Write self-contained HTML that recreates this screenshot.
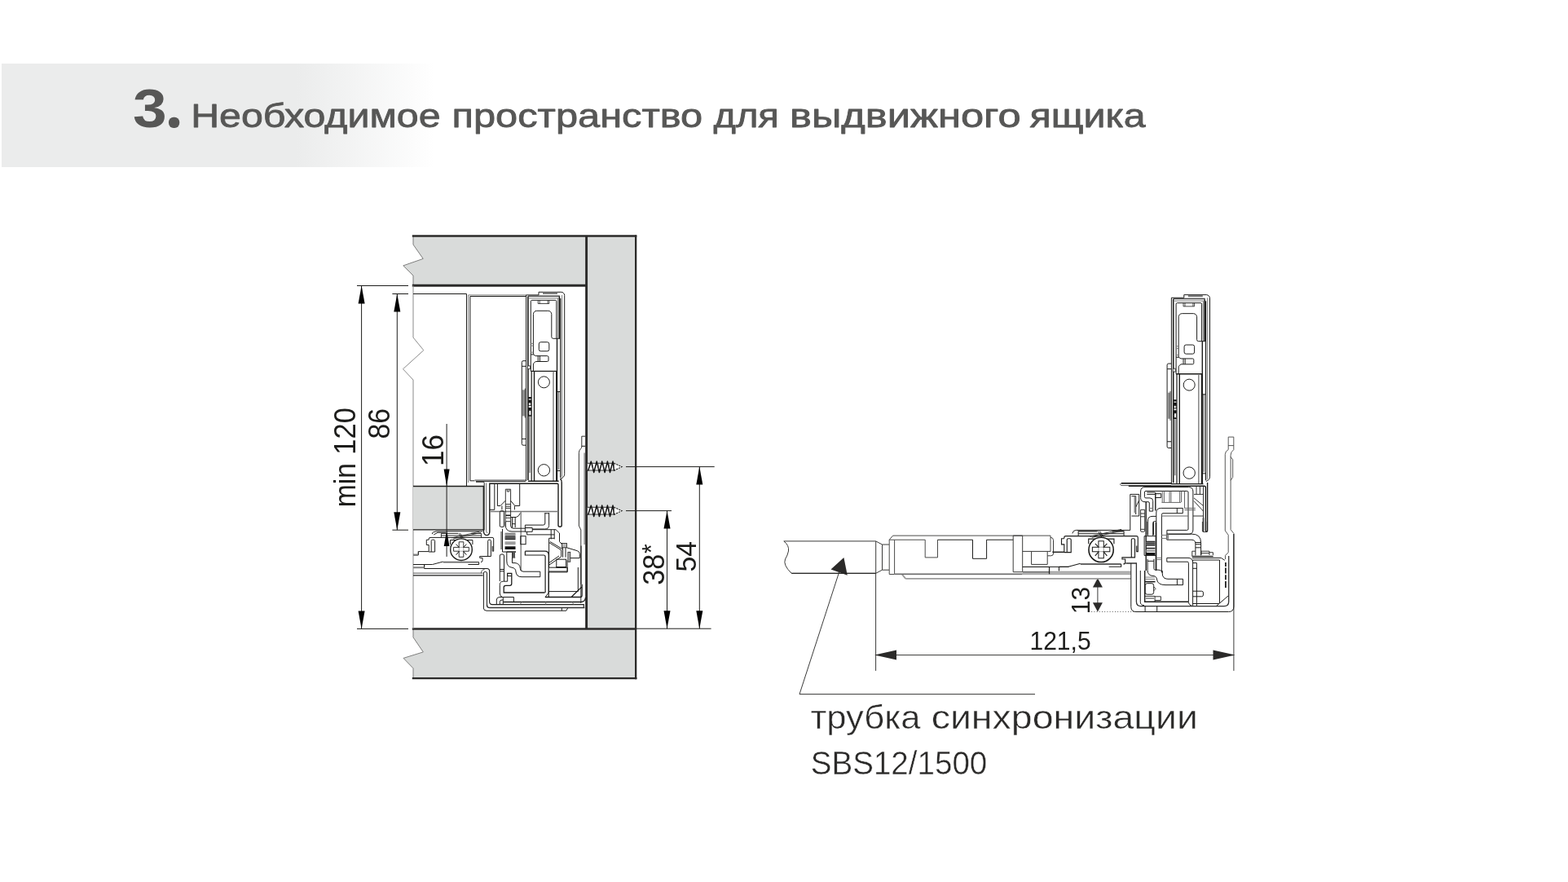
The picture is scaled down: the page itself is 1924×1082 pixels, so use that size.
<!DOCTYPE html>
<html lang="ru">
<head>
<meta charset="utf-8">
<title>3. Необходимое пространство для выдвижного ящика</title>
<style>
html,body{margin:0;padding:0;background:#fff;}
body{width:1924px;height:1082px;overflow:hidden;position:relative;font-family:"Liberation Sans",sans-serif;}
#band{position:absolute;left:2px;top:78px;width:540px;height:127px;background:linear-gradient(90deg,#ebecec 0,#ebecec 67%,#fff 98.5%);}
svg{position:absolute;left:0;top:0;will-change:transform;}
svg text{font-family:"Liberation Sans",sans-serif;}
.ln{fill:none;stroke:#1d1d1b;stroke-width:1;}
.l2{fill:none;stroke:#1d1d1b;stroke-width:1.6;}
.lt{fill:none;stroke:#3a3a39;stroke-width:0.7;}
.lg{fill:none;stroke:#7d7d7c;stroke-width:1;}
.dim{fill:none;stroke:#1d1d1b;stroke-width:1;}
.thick{fill:none;stroke:#2b2a29;stroke-width:2.7;}
.ar{fill:#000;stroke:none;}
.ar2{fill:#2b2a29;stroke:none;}
.wfill{fill:#fff;stroke:none;}
.pan{fill:#d9dbda;stroke:none;}
.wf{fill:#fff;stroke:#1d1d1b;stroke-width:1;}
.gf{fill:#b9b9b9;stroke:#1d1d1b;stroke-width:0.8;}
</style>
</head>
<body>
<div id="band"></div>
<svg width="1924" height="1082" viewBox="0 0 1924 1082">
<g id="hdr">
<text transform="translate(163.10 155.75) scale(1.1504 1.0281)" font-size="65" font-weight="700" fill="#575756">3</text>
<text transform="translate(212.20 150.70) scale(0.9708 0.9783)" font-size="10" font-weight="700" fill="#575756" stroke="#575756" stroke-width="12.2" stroke-linejoin="round">.</text>
<text transform="translate(234.15 155.85) scale(1.1511 0.975)" font-size="42" font-weight="400" fill="#575756" stroke="#575756" stroke-width="0.8" stroke-linejoin="round">Необходимое</text>
<text transform="translate(554.60 155.85) scale(1.1609 0.975)" font-size="42" font-weight="400" fill="#575756" stroke="#575756" stroke-width="0.8" stroke-linejoin="round">пространство</text>
<text transform="translate(875.50 155.85) scale(1.1186 0.975)" font-size="42" font-weight="400" fill="#575756" stroke="#575756" stroke-width="0.8" stroke-linejoin="round">для</text>
<text transform="translate(969.00 155.85) scale(1.2063 0.975)" font-size="42" font-weight="400" fill="#575756" stroke="#575756" stroke-width="0.8" stroke-linejoin="round">выдвижного</text>
<text transform="translate(1263.50 155.85) scale(1.1511 0.975)" font-size="42" font-weight="400" fill="#575756" stroke="#575756" stroke-width="0.8" stroke-linejoin="round">ящика</text>
</g>
<g id="label">
<text transform="translate(994.40 894.20) scale(1.0879 1.0107)" font-size="40" font-weight="400" fill="#2b2a29" stroke="#fff" stroke-width="0.45">трубка</text>
<text transform="translate(1142.65 894.20) scale(1.1628 1.0107)" font-size="40" font-weight="400" fill="#2b2a29" stroke="#fff" stroke-width="0.45">синхронизации</text>
<text transform="translate(994.75 949.60) scale(0.9643 1.0206)" font-size="40" font-weight="400" fill="#2b2a29" stroke="#fff" stroke-width="0.45">SBS12/1500</text>
</g>
<g id="left">
<path class="pan" d="M507 289.7H719.5V350.2H507V338L494.8 325.9L519.2 317.4L507 300Z"/>
<path class="pan" d="M719.5 289.7H780.3V832.1H719.5Z"/>
<path class="pan" d="M507 771.4H780.3V832.1H507V819.8L495 807.4L519.3 799.9L507 781.8Z"/>
<path class="lg" d="M507 289.7V300L519.2 317.4L494.8 325.9L507 338V350.2"/>
<path class="lg" d="M507 771.4V781.8L519.3 799.9L495 807.4L507 819.8V832.1"/>
<path class="thick" d="M505.8 289.6H781.3" style="stroke-width:2.5"/>
<path class="thick" d="M505.8 350.3H719.5" style="stroke-width:3"/>
<path class="thick" d="M719.6 289.7V771.4" style="stroke-width:2.9"/>
<path class="thick" d="M780.15 288.4V833.2" style="stroke-width:2.3"/>
<path class="thick" d="M505.8 771.4H780" style="stroke-width:2.5"/>
<path class="thick" d="M505.8 832.1H781.4" style="stroke-width:2.2"/>
<path class="lg" d="M507 350.2V414L519.8 429.7L494.5 452.7L507 466V771.4" style="stroke:#8a8a8a"/>
<path class="dim" d="M438 350.5H501M438 771.4H501M443.6 350.5V771.4"/>
<path class="ar" d="M443.6 350.5L439.6 372.5L447.6 372.5Z"/>
<path class="ar" d="M443.6 771.4L439.6 749.4L447.6 749.4Z"/>
<path class="dim" d="M481.4 360.5H501M481.4 650.2H501M487.3 360.5V650.2"/>
<path class="ar" d="M487.3 360.5L483.3 382.5L491.3 382.5Z"/>
<path class="ar" d="M487.3 650.2L483.3 628.2L491.3 628.2Z"/>
<path class="dim" d="M768 572.6H876.7M768 626.6H824M780.3 771.2H872.6M858.3 572.6V771.2M818.5 626.6V771.2"/>
<path class="ar" d="M858.3 572.6L854.3 594.6L862.3 594.6Z"/>
<path class="ar" d="M858.3 771.2L854.3 749.2L862.3 749.2Z"/>
<path class="ar" d="M818.5 626.6L814.5 648.6L822.5 648.6Z"/>
<path class="ar" d="M818.5 771.2L814.5 749.2L822.5 749.2Z"/>
<path class="ln" d="M507 360.5H572.5V596.5"/>
<path class="ln" d="M576.9 589.8V363.5H645.5"/>
<path class="lg" d="M574.7 361.9H645.5M574.7 361.9V592"/>
<path class="ln" d="M576.9 589.8H582.4"/>
<path class="ln" d="M582.4 589.2H645" style="stroke:#8a8a8a;stroke-width:2"/>
<path class="ln" d="M584 590.6H645" style="stroke-width:.9"/>
<path class="pan" d="M507 596.5H593.3V649.9H507Z"/>
<path class="ln" d="M507 596.5H593.3V649.9H507" style="stroke-width:1.3"/>
<path class="wfill" d="M645.6 590V361.9H661V358.3H688.5A4.2 4.2 0 0 1 692.7 362.5V581.5Q692.7 585.5 688 587.2V590Z"/>
<path class="ln" d="M645.6 590V361.9H661V358.3H688.5A4.2 4.2 0 0 1 692.7 362.5V581.5Q692.7 585.5 688 587.2"/>
<path class="l2" d="M647.9 589V363.5M686.4 364V415.3"/>
<path class="ln" d="M666 359.7H684" style="stroke:#777;stroke-width:2.4"/>
<path class="ln" d="M648 363.2H687" style="stroke:#444;stroke-width:1.5"/>
<path class="lg" d="M649 365.8H686M689.6 362V585M684.6 366V415.3"/>
<path class="ln" d="M687.7 366V586" style="stroke-width:1.2"/>
<path class="ln" d="M651.3 455.4V369.8Q651.3 368.3 652.8 368.3H681.3Q682.8 368.3 682.8 369.8V415.3"/>
<path class="ln" d="M660.2 368.3V372.5H673.8V368.3M662.2 368.3V372.5M672.1 368.3V372.5" style="stroke-width:.8"/>
<path class="ln" d="M651.3 434.9H654.4V385.5A4.2 4.2 0 0 1 658.6 381.3H672.6A4.2 4.2 0 0 1 676.8 385.5V413.3Q676.8 415.3 678.8 415.3H687.1"/>
<path class="ln" d="M654.4 434.9L657.2 436.6H671.5Q673 436.6 673 438.1V442Q673 443.5 671.5 443.5H657.2L654.4 446V455.4M660.2 436.6V443.5M662.4 436.6V443.5"/>
<path class="lg" d="M651.3 421.4H654.4M651.3 424.1H654.4M651.3 432.2H654.4"/>
<rect class="ln" x="661.3" y="419.7" width="12.5" height="11.1" rx="2.2"/>
<path class="l2" d="M683.5 415.3V590M651.3 455.4H683.5M682.7 455.4V590M655.5 455.4V590" style="stroke-width:1.4"/>
<path class="ln" d="M652.2 455.4V590" style="stroke-width:1.2"/>
<path class="lg" d="M679 455.8V590" style="stroke-width:1.6;stroke:#8c8c8c"/>
<circle class="ln" cx="667.4" cy="468.8" r="7"/>
<circle class="ln" cx="667.4" cy="576.8" r="7.2"/>
<path class="ln" d="M645.5 442.7H642Q640.3 442.7 640.3 444.5V544.5Q640.3 546.2 642 546.2H645.5M640.3 449.3H645.5M640.3 538.4H645.5"/>
<path class="ln" d="M642.6 478.3V510.4" style="stroke:#8f8f8f;stroke-width:3"/>
<path class="ln" d="M644.2 476.5V512.5" style="stroke-width:.8"/>
<rect class="wf" x="647.4" y="448.8" width="3" height="3.9" style="stroke-width:.8"/>
<path class="ln" d="M650.1 487V531" style="stroke-width:3.6;stroke:#111;stroke-dasharray:2.2 1.2 4.5 1.6 1.5 2 6 1.2 3.5 50"/>
<path class="lg" d="M650 511V580" style="stroke-width:1.2;stroke:#666"/>
<rect class="wf" x="648.6" y="494" width="2.6" height="3.6" style="stroke-width:.7"/>
<rect class="wf" x="649" y="503.5" width="2.8" height="5.8" style="stroke-width:.7"/>
<path class="lg" d="M685.4 480.5V576" style="stroke-width:1.4;stroke:#777"/>
<path class="ln" d="M684 480.5H687.5M684 577.5H687.5"/>
<path class="l2" d="M648 590.2H685.6M637 593.3H683.8Q685 593.3 685 594.5V644.5Q685 646.2 687.1 646.2Q689.2 646.2 689.2 644.5V592Q689.2 589 687.5 587" style="stroke-width:1.4"/>
<path class="ln" d="M584 591.2H593Q594.2 591.2 594.2 592.5V650.5"/>
<path class="lg" d="M596.7 592.5V651.5Q596.7 653.6 598.3 653.6" style="stroke:#666"/>
<path class="l2" d="M593.3 650Q593.3 656.6 597 656.6Q600.8 656.6 600.8 652V593.3H637" style="stroke-width:1.4"/>
<path class="ln" d="M606.8 593.9V625.3H601M610.4 593.9V620.5H614L620.2 614.2M637.7 593.5V620.5H631.8L626.6 614.2M615.9 620.5V625.3M631.4 620.5V625.3"/>
<path class="ln" d="M601.5 627.5H685" style="stroke:#777;stroke-width:1.6"/>
<path class="ln" d="M620.3 646V600.2H626.6V640M622.3 600.2V603H624.8V600.2M620.3 618.6H626.6M620.3 621.2H626.6M620.3 623.4H626.6M620.3 635.3H626.6M620.3 639.7H626.6" style="stroke-width:.9"/>
<path class="l2" d="M620.3 632.3H626.6"/>
<rect class="ln" x="613.3" y="626.8" width="5.2" height="19.6" rx="1.5"/>
<path class="ln" d="M627 634.5H633.3Q637 633.5 638.4 629.4M628.5 634.5V647.1M632.2 634.5V647.1M628.5 642.7H632.2"/>
<path class="lg" d="M639.2 627.5V700" style="stroke-width:1.4"/>
<path class="ln" d="M620.3 640V644Q620.3 652 628 652H644.4M626.6 640V645Q626.6 648.2 630 648.2H644.4"/>
<path class="ln" d="M668.8 629V642Q668.8 644.1 666.5 644.1H644.4V652.3H653.2V647.5H644.4M673.6 629V644.5Q673.6 649 668.5 649H653.2M668.8 629.8H673.6"/>
<path class="ln" d="M653.2 649.7H682L686.5 654V664.4L689.8 668M646.6 652.3V655.9H680.2M676.2 649.7V661.4M680.2 649.7V661.4M673.6 660.3H680.2"/>
<path class="ln" d="M616.5 648.8V677H633"/>
<path class="lg" d="M615 652V674" style="stroke-width:1.6"/>
<rect x="619.6" y="653.7" width="12.9" height="3.7" fill="#777"/><rect x="619.6" y="657.7" width="12.9" height="4.5" fill="#2a2a2a"/><rect x="619.6" y="664.4" width="12.9" height="3.6" fill="#8a8a8a"/><rect x="619.6" y="670.3" width="12.9" height="3.7" fill="#111"/>
<path class="ln" d="M619.6 655.5H632.5M619.6 659.9H632.5M619.6 666.2H632.5" style="stroke:#ddd;stroke-width:.6"/>
<rect class="ln" x="638.8" y="657.7" width="6.3" height="10"/>
<path class="ln" d="M673.6 660.3V696.2H696.1M673.6 701H696.1V687.3M673.6 665.5L688.7 674.8V682.9L673.6 693.2M675 664.5L690 673.5M673.6 690.5L686 682"/>
<rect class="ln" x="682.8" y="686.2" width="11.8" height="9.6"/>
<rect class="gf" x="689.6" y="666.6" width="5.8" height="5.2"/>
<path class="ln" d="M690.6 671.8V683.6M694 671.8V683.6"/>
<path class="ln" d="M695.4 671.8L708.4 675.7Q711.3 676.6 711.3 679.5V684.6H699.8"/>
<rect class="gf" x="696.9" y="677.3" width="2.9" height="11.9"/>
<path class="ln" d="M644.4 676.2H668.5Q673.2 676.2 673.2 681V732M644.4 676.2V681H667Q669.1 681 669.1 683V727" style="stroke-width:1.2"/>
<path class="ln" d="M621.8 677V688Q621.8 695.5 628 696.2Q632.9 697 632.9 701Q633.5 707.7 640 707.7H662.8V701.2H642Q638.6 701.2 638.4 697.5Q638 691.2 632 690.6H628.5V677M628.5 684H632.2M621.8 677H633"/>
<path class="ln" d="M630.3 677V684" style="stroke-width:3.4;stroke:#555"/>
<path class="ln" d="M613.3 713V682Q613.3 680 615 680H617Q618.5 680 618.5 682V713M613.3 698.5H618.5M613.3 700.8H618.5"/>
<path class="ln" d="M622.7 707V703.4H627.8V716Q627.8 718.3 625.5 718.3H620.5Q618.2 718.3 618.2 720.5V727H668.6" style="stroke-width:1.3"/>
<path class="ln" d="M622.7 707V713.2H617.5Q613.3 713.2 613.3 717.5V728Q613.3 731.5 616.5 732.5M622.7 706.6H627.8"/>
<path class="ln" d="M617.3 732.5H630.4V738.3M617.3 732.5V741.6M609.3 741.6V736Q609.3 732.5 613 732.5H617.3M613.3 741.6V738.3Q613.3 736 616 736H617.3"/>
<path class="l2" d="M669 732.5H712Q714.1 732.5 714.1 730.3V716.8M701 732.5L713.7 720.1" style="stroke-width:1.3"/>
<path class="ln" d="M673.7 725.6H709.3V696M673.3 701V727L669 732.5M696.2 696V701.9M673.3 701.9H696.2"/>
<path class="ln" d="M713 669.6V716.8" style="stroke:#666;stroke-width:1.6"/>
<path class="l2" d="M682.4 695.8H694.8"/>
<path class="ln" d="M520.6 697.5H597.5Q600.6 697.5 600.6 700.6V738Q600.6 741.6 604 741.6H716.3V745.6" style="stroke-width:1.1"/>
<path class="ln" d="M507 703.1H592.6M590.4 703.1Q590.6 698.7 594.5 698.6" style="stroke:#555"/>
<path class="ln" d="M507 705.9H592.6" style="stroke-width:1.1"/>
<path class="ln" d="M597.5 742V703Q597.5 701.4 595.5 701.4Q593.4 701.4 593.4 703V746Q593.4 749.2 597 749.2H694.8L696.6 746M689.3 745.6V749.2"/>
<path class="ln" d="M597.5 742Q597.5 745.6 601 745.6H717.4" style="stroke-width:1.5;stroke:#333"/>
<path class="l2" d="M617.3 738.5H712.5Q718 738.5 718.5 733" style="stroke-width:1.3"/>
<path class="lg" d="M640.2 738.5L638 741.6M669.7 738.5V741.6M702 738.5L704 741.6"/>
<path class="ln" d="M530.7 655.2Q529.5 653.8 531.5 653L535.1 651.8H592M532.2 656L537 653.3H547"/>
<path class="ln" d="M541.4 659.4V654.4H562M590.6 659.4V654.4H578M541.4 657H590.6" style="stroke-width:.9"/>
<path class="ln" d="M554 660L588 652.2M556 661L590 653.4M562.8 654L566.5 660.7M564.6 654L568 660" style="stroke-width:.8"/>
<path class="ln" d="M526.2 662V661Q526.2 659.4 528 659.4H604Q605.7 659.4 605.7 661V676.2H604.3V670M526.2 662.2H523.3V668.5H526.2V676.6M529.2 677V663.5Q529.2 662.2 530.5 662.2H532.3Q533.6 662.2 533.6 663.5V677H526.2M598.7 682.1V663.5Q598.7 662.2 600 662.2H601.1Q602.4 662.2 602.4 663.5V682.5H588.7V684.4H592V687.6Q592 689.6 590 689.6"/>
<path class="ln" d="M526.2 676.6H513.3"/>
<path class="ln" d="M543.7 689.6H587.6" style="stroke:#666;stroke-width:1.8"/>
<path class="ln" d="M520.6 692.5H530.6L543.7 689M574.4 692.5H587.6V689.6"/>
<path class="ln" d="M552.5 668V662.5H579.9V668"/>
<circle class="wf" cx="566" cy="674.2" r="13.3" style="stroke-width:1.4"/>
<path class="ln" d="M556.6 671.4H563.2V664.8H568.8V671.4H575.4V676.2H568.8V683.3H563.2V676.2H556.6Z" style="stroke-width:.9"/>
<path class="ln" d="M563.2 671.4H568.8V676.2H563.2Z" style="stroke-width:.6;stroke:#777"/>
<path class="ln" d="M559.6 667.6L563.6 671.8M572.4 667.6L568.4 671.8M559.6 680.8L563.6 676M572.4 680.8L568.4 676" style="stroke-width:1"/>
<path class="ln" d="M513.3 676.6V680.3H507M507 692.5H520.6V697.5" style="stroke-width:1.2"/>
<path class="ln" d="M507 681H513.3M507 696.3H520.6" style="stroke:#808080;stroke-width:2"/>
<path class="dim" d="M548.1 520V682.9"/>
<path class="ar" d="M548.1 596.4L544.6 575.4L551.6 575.4Z"/>
<path class="ar" d="M548.1 651.0L544.7 670.0L551.5 670.0Z"/>
<path class="ln" d="M718.2 535.2H713.8V548Q713.8 549.5 712.6 550.5Q710.4 552.5 710.4 555.5V645L712.8 650V740" style="stroke-width:.9"/>
<path class="ln" d="M713.8 547.3H718.2"/>
<path class="lg" d="M717.1 555.5V668" style="stroke-width:1.3"/>
<path class="wfill" d="M720.8 568.3L723.7 568.3L725.3 566.1L727.1 568.3L730.6 568.3L732.2 566.1L734.0 568.3L737.1 568.3L738.7 566.1L740.5 568.3L743.8 568.3L745.4 566.1L747.2 568.3L750.4 568.3L752.0 566.1L753.8 568.3L753.4 568.3L763 572.6L753.4 577.4L750.3 577.0L748.5 579.5L746.7 577.0L743.9 577.0L742.1 579.5L740.3 577.0L737.2 577.0L735.4 579.5L733.6 577.0L730.5 577.0L728.7 579.5L726.9 577.0L720.8 577.0Z"/>
<path class="ln" d="M720.8 568.3H753.4M720.8 577.0H753.4" style="stroke-width:.9"/>
<path class="ln" d="M721.6 577.6L725.3 566.1L728.7 579.5L732.2 566.1L735.4 579.5L738.7 566.1L742.1 579.5L745.4 566.1L748.5 579.5L752.0 566.1L753.6 577.6" style="stroke-width:1.5;stroke-linejoin:round;stroke:#111"/>
<path class="ln" d="M726.8 567.6L727.9 575.6M733.7 567.6L734.8 575.6M740.2 567.6L741.3 575.6M746.9 567.6L748.0 575.6M753.5 567.6L753.2 575.6" style="stroke-width:.8;stroke:#555"/>
<path class="ln" d="M753.4 568.3L763 572.6L753.4 577.4" style="stroke-width:1.1;stroke-dasharray:2.2 1"/>
<path class="wfill" d="M720.8 622.3L723.7 622.3L725.3 620.1L727.1 622.3L730.6 622.3L732.2 620.1L734.0 622.3L737.1 622.3L738.7 620.1L740.5 622.3L743.8 622.3L745.4 620.1L747.2 622.3L750.4 622.3L752.0 620.1L753.8 622.3L753.4 622.3L763 626.6L753.4 631.4L750.3 631.0L748.5 633.5L746.7 631.0L743.9 631.0L742.1 633.5L740.3 631.0L737.2 631.0L735.4 633.5L733.6 631.0L730.5 631.0L728.7 633.5L726.9 631.0L720.8 631.0Z"/>
<path class="ln" d="M720.8 622.3H753.4M720.8 631.0H753.4" style="stroke-width:.9"/>
<path class="ln" d="M721.6 631.6L725.3 620.1L728.7 633.5L732.2 620.1L735.4 633.5L738.7 620.1L742.1 633.5L745.4 620.1L748.5 633.5L752.0 620.1L753.6 631.6" style="stroke-width:1.5;stroke-linejoin:round;stroke:#111"/>
<path class="ln" d="M726.8 621.6L727.9 629.6M733.7 621.6L734.8 629.6M740.2 621.6L741.3 629.6M746.9 621.6L748.0 629.6M753.5 621.6L753.2 629.6" style="stroke-width:.8;stroke:#555"/>
<path class="ln" d="M753.4 622.3L763 626.6L753.4 631.4" style="stroke-width:1.1;stroke-dasharray:2.2 1"/>
</g>
<g id="right">
<path class="dim" d="M1074.6 703V822.9M1513.9 655V822.9M1074.6 803.6H1513.9" style="stroke:#3a3a39"/>
<path class="ar2" d="M1073.0 803.6L1100.0 797.6L1100.0 809.6Z"/>
<path class="ar2" d="M1515.5 803.6L1488.5 797.6L1488.5 809.6Z"/>
<path class="dim" d="M1346.9 712V748" style="stroke:#3a3a39"/>
<path class="ar2" d="M1346.9 709.3L1340.9 720.5L1352.9 720.5Z"/>
<path class="ar2" d="M1346.9 750.4L1340.9 739.2L1352.9 739.2Z"/>
<path class="dim" d="M1336 750.4H1392" style="stroke-dasharray:1 2.2;stroke:#555"/>
<path class="dim" d="M1270 851.6H981L1029.6 702" style="stroke:#3a3a39"/>
<path class="ar2" d="M1035.4 683.9L1019.5 698.4L1039.8 705.7Z"/>
<path class="ln" d="M1074.7 663.9H961.8Q968.5 669 967.5 676Q966.5 681 963.5 686Q960.5 693 971.2 703.3H1074.7" style="stroke:#3a3a39"/>
<path class="ln" d="M971.2 703.3H1074.7"/>
<path class="ln" d="M1074.7 663.9V703.3M1074.7 663.9L1082.5 668V699.2L1074.7 703.3M1082.5 668H1091M1082.5 699.2H1091" style="stroke:#3a3a39"/>
<path class="ln" d="M1091.2 662.2H1097.6V704.5H1091.2ZM1091.2 662.2L1095.6 657.1H1289V676.6M1097.6 662.2H1135.2V683.9H1150.5V662.2" style="stroke:#4a4a49"/>
<path class="ln" d="M1150.5 662.2H1193.5V685.3H1210.6V662.2H1243.2"/>
<path class="ln" d="M1243.2 657.1H1254.7V701.7H1243.2Z" style="stroke:#3a3a39"/>
<path class="ln" d="M1255 702.8H1387.6" style="stroke:#b4b4b4;stroke-width:3.6"/>
<path class="ln" d="M1255 701.1H1387.6M1097.6 704.5H1387.6" style="stroke:#8a8a8a;stroke-width:.7"/>
<path class="ln" d="M1097.6 704H1255" style="stroke:#9a9a9a;stroke-width:1.6"/>
<path class="ln" d="M1111.2 709.9H1387.6M1106.8 704.5L1111.2 709.8" style="stroke:#9c9c9c;stroke-width:1.9"/>
<path class="ln" d="M1097.6 704.6H1254" style="stroke:#555;stroke-width:.8"/>
<path class="ln" d="M1254.7 676.4H1289M1265.6 676.4V692.4H1285.2V676.4M1254.7 695.5H1287.7V704.4M1289 659.2Q1292.5 659.6 1292.5 662.6V679Q1292.5 681.8 1289.5 681.8H1285.2M1299.4 695.8V700" style="stroke:#3a3a39"/>
<path class="ln" d="M1254.7 701.7H1287.7" style="stroke:#777;stroke-width:1.4"/>
<path class="ln" d="M1292.5 677.5H1305.9M1255 695.4H1311.5M1299.5 695.4V700.4M1287.4 695.4V703.7"/>
<g transform="translate(1351.1 674.4) scale(1.138) translate(-566 -674.2)"><path class="ln" d="M541.4 659.4V654.4H562M590.6 659.4V654.4H578M541.4 657H590.6" style="stroke-width:.9"/>
<path class="ln" d="M554 660L588 652.2M556 661L590 653.4M562.8 654L566.5 660.7M564.6 654L568 660" style="stroke-width:.8"/>
<path class="ln" d="M526.2 662V661Q526.2 659.4 528 659.4H604Q605.7 659.4 605.7 661V676.2H604.3V670M526.2 662.2H523.3V668.5H526.2V676.6M529.2 677V663.5Q529.2 662.2 530.5 662.2H532.3Q533.6 662.2 533.6 663.5V677H526.2M598.7 682.1V663.5Q598.7 662.2 600 662.2H601.1Q602.4 662.2 602.4 663.5V682.5H588.7V684.4H592V687.6Q592 689.6 590 689.6"/>
<path class="ln" d="M526.2 676.6H513.3"/>
<path class="ln" d="M543.7 689.6H587.6" style="stroke:#666;stroke-width:1.8"/>
<path class="ln" d="M520.6 692.5H530.6L543.7 689M574.4 692.5H587.6V689.6"/>
<path class="ln" d="M552.5 668V662.5H579.9V668"/>
<circle class="wf" cx="566" cy="674.2" r="13.3" style="stroke-width:1.4"/>
<path class="ln" d="M556.6 671.4H563.2V664.8H568.8V671.4H575.4V676.2H568.8V683.3H563.2V676.2H556.6Z" style="stroke-width:.9"/>
<path class="ln" d="M563.2 671.4H568.8V676.2H563.2Z" style="stroke-width:.6;stroke:#777"/>
<path class="ln" d="M559.6 667.6L563.6 671.8M572.4 667.6L568.4 671.8M559.6 680.8L563.6 676M572.4 680.8L568.4 676" style="stroke-width:1"/></g>
<path class="ln" d="M1315.9 654.4Q1316.5 650.4 1320.5 650.4H1386.8V606.4"/>
<g transform="translate(791.8 3.35)"><path class="wfill" d="M645.6 590V361.9H661V358.3H688.5A4.2 4.2 0 0 1 692.7 362.5V581.5Q692.7 585.5 688 587.2V590Z"/>
<path class="ln" d="M645.6 590V361.9H661V358.3H688.5A4.2 4.2 0 0 1 692.7 362.5V581.5Q692.7 585.5 688 587.2"/>
<path class="l2" d="M647.9 589V363.5M686.4 364V415.3"/>
<path class="ln" d="M666 359.7H684" style="stroke:#777;stroke-width:2.4"/>
<path class="ln" d="M648 363.2H687" style="stroke:#444;stroke-width:1.5"/>
<path class="lg" d="M649 365.8H686M689.6 362V585M684.6 366V415.3"/>
<path class="ln" d="M687.7 366V586" style="stroke-width:1.2"/>
<path class="ln" d="M651.3 455.4V369.8Q651.3 368.3 652.8 368.3H681.3Q682.8 368.3 682.8 369.8V415.3"/>
<path class="ln" d="M660.2 368.3V372.5H673.8V368.3M662.2 368.3V372.5M672.1 368.3V372.5" style="stroke-width:.8"/>
<path class="ln" d="M651.3 434.9H654.4V385.5A4.2 4.2 0 0 1 658.6 381.3H672.6A4.2 4.2 0 0 1 676.8 385.5V413.3Q676.8 415.3 678.8 415.3H687.1"/>
<path class="ln" d="M654.4 434.9L657.2 436.6H671.5Q673 436.6 673 438.1V442Q673 443.5 671.5 443.5H657.2L654.4 446V455.4M660.2 436.6V443.5M662.4 436.6V443.5"/>
<path class="lg" d="M651.3 421.4H654.4M651.3 424.1H654.4M651.3 432.2H654.4"/>
<rect class="ln" x="661.3" y="419.7" width="12.5" height="11.1" rx="2.2"/>
<path class="l2" d="M683.5 415.3V590M651.3 455.4H683.5M682.7 455.4V590M655.5 455.4V590" style="stroke-width:1.4"/>
<path class="ln" d="M652.2 455.4V590" style="stroke-width:1.2"/>
<path class="lg" d="M679 455.8V590" style="stroke-width:1.6;stroke:#8c8c8c"/>
<circle class="ln" cx="667.4" cy="468.8" r="7"/>
<circle class="ln" cx="667.4" cy="576.8" r="7.2"/>
<path class="ln" d="M645.5 442.7H642Q640.3 442.7 640.3 444.5V544.5Q640.3 546.2 642 546.2H645.5M640.3 449.3H645.5M640.3 538.4H645.5"/>
<path class="ln" d="M642.6 478.3V510.4" style="stroke:#8f8f8f;stroke-width:3"/>
<path class="ln" d="M644.2 476.5V512.5" style="stroke-width:.8"/>
<rect class="wf" x="647.4" y="448.8" width="3" height="3.9" style="stroke-width:.8"/>
<path class="ln" d="M650.1 487V531" style="stroke-width:3.6;stroke:#111;stroke-dasharray:2.2 1.2 4.5 1.6 1.5 2 6 1.2 3.5 50"/>
<path class="lg" d="M650 511V580" style="stroke-width:1.2;stroke:#666"/>
<rect class="wf" x="648.6" y="494" width="2.6" height="3.6" style="stroke-width:.7"/>
<rect class="wf" x="649" y="503.5" width="2.8" height="5.8" style="stroke-width:.7"/>
<path class="lg" d="M685.4 480.5V576" style="stroke-width:1.4;stroke:#777"/>
<path class="ln" d="M684 480.5H687.5M684 577.5H687.5"/></g>
<path class="l2" d="M1376 592.8H1437.3" style="stroke-width:1.7"/>
<path class="ln" d="M1376 592.8Q1374.2 593.2 1374.6 594.6Q1375 595.6 1377 595.6H1437" style="stroke:#555"/>
<path class="l2" d="M1437 593.6H1476.5M1384.8 596.2H1477.5Q1479.4 596.2 1479.4 598V651Q1479.4 652.4 1480.5 652.4Q1481.6 652.4 1481.6 651V592" style="stroke-width:1.4"/>
<path class="ln" d="M1410.3 627.1V617Q1410.3 615.7 1409 615.7H1405Q1399.6 615.7 1399.6 610.5V603Q1399.6 597.6 1405 597.6H1458.5Q1463.9 597.6 1463.9 603V650Q1463.9 655.2 1458.5 655.2H1431.9V650.4H1456.5Q1458 650.4 1458 649V604Q1458 602.4 1456.5 602.4H1406Q1404.4 602.4 1404.4 604V609.5Q1404.4 610.9 1406 610.9H1411Q1414.7 610.9 1414.7 614.5V627.1Z"/>
<path class="lg" d="M1410.3 623.5H1414.7"/>
<path class="ln" d="M1418.8 700V629Q1418.8 623.4 1424.5 623.4H1451.3V629.7H1427Q1425.4 629.7 1425.4 631.5V702M1444.3 623.4V629.7"/>
<path class="ln" d="M1408.4 657V639Q1408.4 633.4 1414 633.4H1418.8M1414.7 657V641.5Q1414.7 639.7 1416.5 639.7H1418.8"/>
<path class="ln" d="M1386.8 606.4H1397.7V633H1388.5M1388.5 608.7H1393.7V631M1393.7 622L1397.7 613.8"/>
<path class="ln" d="M1392.5 609V629" style="stroke:#8a8a8a;stroke-width:2"/>
<path class="ln" d="M1399.6 625.3V651Q1399.6 652.3 1401 652.3H1403.3Q1404.7 652.3 1404.7 651V625.3M1399.6 625.3H1404.7M1399.6 630H1404.7M1399.6 633.8H1404.7M1399.6 649.3H1404.7" style="stroke-width:.9"/>
<path class="l2" d="M1406.2 616V700M1417.8 604.2V626.4" style="stroke-width:1.4"/>
<path class="ln" d="M1407.3 604H1417.3M1407.3 606.4H1417.3M1417.3 605.7H1424.7V610.5H1417.3"/>
<path class="ln" d="M1426.2 602.4V616M1428.4 602.4V616M1435 602.4V616M1436.9 602.4V616M1447.6 602.4V616M1449.5 602.4V616M1453.5 602.4V623.4M1425.4 616.4H1449.1" style="stroke:#555;stroke-width:.9"/>
<path class="ln" d="M1425.4 633H1458M1453.5 623.4H1466.9M1453.5 625.6H1466.9" style="stroke:#666"/>
<path class="ln" d="M1465 606.4H1476.5M1465 610.9L1476.5 620.5M1465 614.6L1476.5 627.1M1464 633H1476.5M1468 597V606.4M1472.4 597V606.4M1476.5 597V652" style="stroke-width:.9"/>
<path class="ln" d="M1476.5 635.3V652.3" style="stroke:#444;stroke-width:1.8"/>
<path class="ln" d="M1404.1 657.7V681.4M1404.1 657.7H1418M1404.1 681.4H1418"/>
<rect x="1406.3" y="663.7" width="11.1" height="5.9" fill="#2a2a2a"/><rect x="1406.3" y="671.8" width="11.1" height="1.6" fill="#222"/><rect x="1406.3" y="674.6" width="11.1" height="2.2" fill="#999"/><rect x="1406.3" y="678" width="11.1" height="3.2" fill="#111"/>
<path class="ln" d="M1406.3 665.6H1417.4M1406.3 667.6H1417.4" style="stroke:#ccc;stroke-width:.6"/>
<path class="l2" d="M1418.4 641V700" style="stroke-width:1.5"/>
<path class="ln" d="M1408.1 640V656.3M1415.5 640V656.3"/>
<path class="ln" d="M1431.8 655.2V662.2H1462Q1466.9 662.2 1466.9 667V681.4M1431.8 655.2H1462.8Q1473.6 655.2 1473.6 666V681.4M1466.9 665.5H1473.6M1466.9 667.7H1473.6M1466.9 671.8H1473.6"/>
<path class="ln" d="M1433.2 655.5V662" style="stroke:#8a8a8a;stroke-width:2"/>
<path class="lg" d="M1425.4 656.5H1431.8M1425.4 660.5H1431.8"/>
<path class="l2" d="M1462.8 682.5H1488.7" style="stroke-width:1.4"/>
<path class="ln" d="M1462.8 682.5V676.2H1466.9M1473.9 681V676.2H1483.9V681M1483.9 677.7H1488.4V681M1473.9 678.6H1483.9" style="stroke-width:.9"/>
<path class="ln" d="M1462.8 684.4H1498.3L1502.8 687.3M1463.6 687H1496.5V740M1463.6 687V743.6M1463.6 690.6H1468.4V743M1463.6 697.3H1468.4"/>
<path class="ln" d="M1431.8 684.4H1458Q1463 684.6 1463.6 689M1431.8 684.4V689.2H1457Q1458.4 689.2 1458.4 690.6V738.3"/>
<path class="lg" d="M1418.8 684.4H1425.4M1418.8 686.5H1425.4"/>
<path class="ln" d="M1426.2 700V703Q1426.2 710.3 1433 710.3H1451.5V717.6H1430Q1420.5 717.6 1419.6 711Q1419.2 706.6 1415 706.5Q1408.1 706.2 1408.1 699.5V685.8M1415.9 685.8V697.5Q1415.9 699.1 1417.5 699.1H1421Q1426.2 699.4 1426.2 703M1444.4 710.3V717.6M1408.1 688.3H1415.9"/>
<path class="ln" d="M1381.3 691H1394.4V738Q1394.4 743.6 1400 743.6H1502Q1507.7 743.6 1507.7 738V682" style="stroke-width:1.3;stroke:#333"/>
<path class="ln" d="M1387.8 691V744.5Q1387.8 750.5 1394 750.5H1507.5Q1513.9 750.5 1513.9 744V655M1399.3 700V738.5Q1399.3 742.6 1404 742.6M1405.1 743.6V750.5M1419.7 743.6V750.5"/>
<path class="l2" d="M1404.7 700V738.3H1458.2" style="stroke-width:1.4"/>
<path class="ln" d="M1458.2 738.3Q1458.6 742.6 1462.2 743"/>
<path class="ln" d="M1468.4 740.5H1495.7M1463.7 725.2H1474.5Q1476.4 725.2 1476.4 727V730Q1476.4 731.8 1474.5 731.8H1463.7M1492.4 743.6L1507 731M1463 740.5H1468.4"/>
<path class="ln" d="M1503.9 690V721" style="stroke-width:1.8;stroke:#222;stroke-dasharray:5 1.5 7 1.8 6 1.6 8 2"/>
<rect class="ln" x="1405.1" y="715.7" width="10.6" height="13.5" rx="2.6"/>
<path class="lg" d="M1405 708.1H1417M1405 710.5H1417"/>
<path class="l2" d="M1405 713.6H1417.5"/>
<path class="ln" d="M1405.1 731.4H1417.1V738.3M1417.1 731.8H1424.4V736.5H1417.1M1406 734H1416" style="stroke-width:.9"/>
<path class="ln" d="M1416 720L1418 722.3L1416 724.6" style="stroke-width:.8"/>
<path class="ln" d="M1475.4 640V651Q1475.4 652.6 1477 652.6H1479.7Q1481.3 652.6 1481.3 651V640" style="stroke-width:.8"/>
<path class="ln" d="M1507.2 551.6V536.1H1513.8V551.6M1507.2 546.6H1513.8M1507.2 551.6Q1503.3 553.5 1503.3 557.5V651L1507.2 656.3V677.7L1503.5 681.4V686M1513.8 551.6Q1510.1 554.5 1510.1 558.3V649.6L1514.2 654.8M1510.1 560.5L1512.7 563.8V585.4L1510.1 589.3" style="stroke-width:.85;stroke:#3a3a39"/>
</g>
<g id="dimtext">
<text transform="translate(435.85 622.35) rotate(-90) scale(0.9371 1.0058)" font-size="36" font-weight="400" fill="#1d1d1b">min</text>
<text transform="translate(436.15 557.65) rotate(-90) scale(0.9581 1.0510)" font-size="36" font-weight="400" fill="#1d1d1b">120</text>
<text transform="translate(478.40 538.50) rotate(-90) scale(0.9415 1.0138)" font-size="36" font-weight="400" fill="#1d1d1b">86</text>
<text transform="translate(544.25 572.10) rotate(-90) scale(0.9749 1.0157)" font-size="36" font-weight="400" fill="#1d1d1b">16</text>
<text transform="translate(814.75 717.80) rotate(-90) scale(0.9487 1.0334)" font-size="36" font-weight="400" fill="#1d1d1b">38</text>
<text transform="translate(810.10 679.10) rotate(-90) scale(0.8319 0.8841)" font-size="36" font-weight="400" fill="#1d1d1b">*</text>
<text transform="translate(853.85 701.55) rotate(-90) scale(0.9414 0.9960)" font-size="36" font-weight="400" fill="#1d1d1b">54</text>
<text transform="translate(1336.70 753.20) rotate(-90) scale(0.9366 1.0089)" font-size="32" font-weight="400" fill="#1d1d1b">13</text>
<text transform="translate(1263.45 796.85) scale(0.9688 1.0020)" font-size="31" font-weight="400" fill="#1d1d1b">121,5</text>
</g>
</svg>
</body>
</html>
